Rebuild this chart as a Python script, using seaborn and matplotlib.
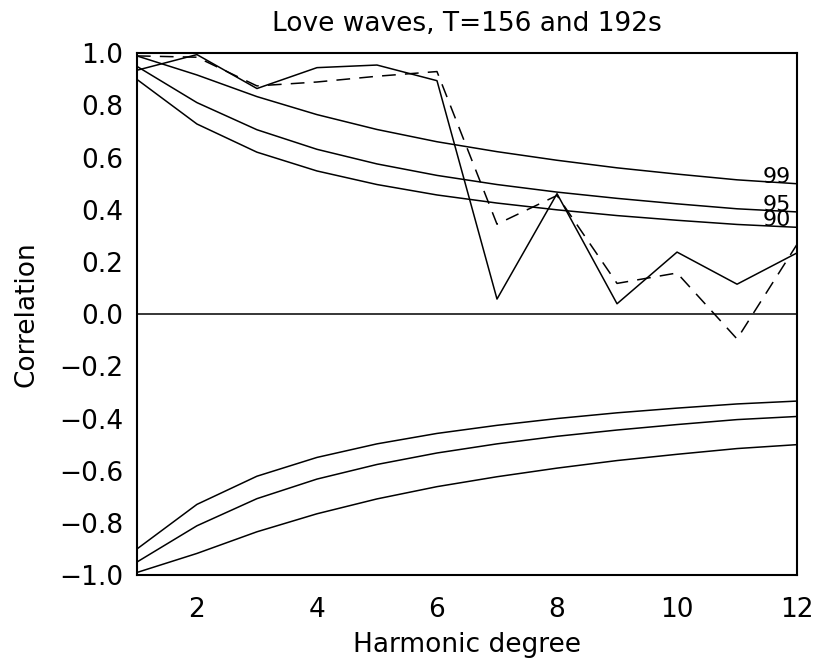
import matplotlib
matplotlib.use("Agg")
import matplotlib.pyplot as plt
import seaborn as sns
import pandas as pd

# ---- data ----
degrees = [1, 2, 3, 4, 5, 6, 7, 8, 9, 10, 11, 12]
corr_156 = [0.935, 0.995, 0.865, 0.945, 0.955, 0.895, 0.058, 0.462, 0.040, 0.238, 0.115, 0.235]
corr_192 = [0.990, 0.985, 0.875, 0.890, 0.912, 0.930, 0.345, 0.455, 0.118, 0.158, -0.095, 0.268]
conf99_pos = [0.990, 0.917, 0.834, 0.765, 0.708, 0.661, 0.623, 0.590, 0.561, 0.537, 0.515, 0.500]
conf95_pos = [0.950, 0.811, 0.707, 0.632, 0.576, 0.532, 0.497, 0.468, 0.444, 0.423, 0.404, 0.392]
conf90_pos = [0.900, 0.729, 0.621, 0.549, 0.497, 0.457, 0.426, 0.400, 0.378, 0.360, 0.344, 0.333]
conf99_neg = [-0.990, -0.917, -0.834, -0.765, -0.708, -0.661, -0.623, -0.590, -0.561, -0.537, -0.515, -0.500]
conf95_neg = [-0.950, -0.811, -0.707, -0.632, -0.576, -0.532, -0.497, -0.468, -0.444, -0.423, -0.404, -0.392]
conf90_neg = [-0.900, -0.729, -0.621, -0.549, -0.497, -0.457, -0.426, -0.400, -0.378, -0.360, -0.344, -0.333]
conf_labels = ["99", "95", "90"]
xticks = [2, 4, 6, 8, 10, 12]
yticks = [-1.0, -0.8, -0.6, -0.4, -0.2, 0.0, 0.2, 0.4, 0.6, 0.8, 1.0]
title = "Love waves, T=156 and 192s"
xlabel = "Harmonic degree"
ylabel = "Correlation"

sns.set_style("white")
plt.rcParams["font.family"] = ["DejaVu Sans"]

fig = plt.figure(figsize=(8.15, 6.58), dpi=100)
ax = fig.add_axes([0.168, 0.126, 0.810, 0.793])

lw = 1.1
conf_series = [conf99_pos, conf95_pos, conf90_pos, conf99_neg, conf95_neg, conf90_neg]
for s in conf_series:
    sns.lineplot(x=degrees, y=s, ax=ax, color="black", linewidth=lw, legend=False)

sns.lineplot(x=degrees, y=corr_156, ax=ax, color="black", linewidth=lw, legend=False)
sns.lineplot(x=degrees, y=corr_192, ax=ax, color="black", linewidth=lw, legend=False,
             dashes=False, linestyle=(0, (9, 6)))

ax.axhline(0.0, color="black", linewidth=lw)

for lab, s in zip(conf_labels, [conf99_pos, conf95_pos, conf90_pos]):
    ax.text(degrees[-1] - 0.1, s[-1] + 0.004, lab, ha="right", va="baseline",
            fontsize=16, color="black")

ax.set_xlim(1, 12)
ax.set_ylim(-1, 1)
ax.set_xticks(xticks)
ax.set_xticklabels([str(t) for t in xticks])
ax.set_yticks(yticks)
ax.set_yticklabels([f"{t:.1f}".replace("-", "\u2212") for t in yticks])
ax.tick_params(axis="both", direction="in", length=9, width=1.0, labelsize=19,
               top=False, right=False, colors="black")
ax.tick_params(axis="x", pad=16)
ax.tick_params(axis="y", pad=10)
for sp in ax.spines.values():
    sp.set_visible(True)
    sp.set_color("black")
    sp.set_linewidth(1.5)

ax.set_title(title, fontsize=19, pad=16, color="black")
ax.set_xlabel(xlabel, fontsize=19, labelpad=6, color="black")
ax.set_ylabel(ylabel, fontsize=19, labelpad=14, color="black")

fig.savefig("out.png", dpi=100)
